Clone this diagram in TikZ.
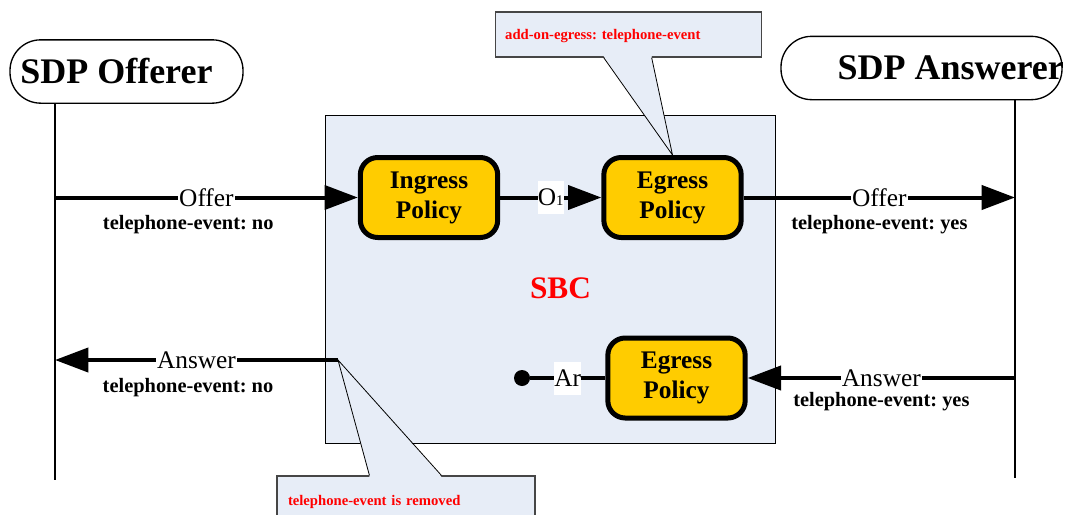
\documentclass[tikz,border=0pt]{standalone}
\usepackage{fontspec}
\setmainfont{Liberation Serif}
\usetikzlibrary{positioning,arrows.meta}
\frenchspacing

\definecolor{sbcfill}{RGB}{231,237,247}
\definecolor{policyfill}{RGB}{255,204,0}
\definecolor{noteline}{RGB}{70,70,70}

\begin{document}
\begin{tikzpicture}[
  x=0.75pt, y=-0.75pt,
  font=\fontsize{19}{22.5}\selectfont,
  party/.style={rectangle, rounded corners=23pt, draw=black, line width=1pt,
                minimum height=47.5pt, inner sep=0pt},
  partyname/.style={anchor=west, inner sep=0pt, font=\fontsize{27}{30}\selectfont\bfseries},
  lifeline/.style={draw=black, line width=1pt},
  sbc/.style={rectangle, draw=black, line width=0.7pt, fill=sbcfill,
              minimum width=337.5pt, minimum height=246pt},
  policy/.style={rectangle, rounded corners=13pt, draw=black, line width=3.75pt,
                 fill=policyfill, minimum width=103pt, minimum height=60pt,
                 align=center, inner sep=2pt, font=\fontsize{19}{22.5}\selectfont\bfseries},
  arrow/.style={-{Triangle[length=25pt,width=18pt]}, line width=3pt, draw=black},
  msg/.style={fill=white, inner sep=1pt},
  clipped/.style={fill=white, inner sep=0pt, minimum height=24.75pt, minimum width=#1},
  sub/.style={font=\fontsize{15.3}{18}\selectfont\bfseries},
  note/.style={rectangle, draw=noteline, line width=0.8pt, fill=sbcfill,
               align=left, text=red, font=\fontsize{11}{13}\selectfont\bfseries},
  pointer/.style={draw=black, line width=0.6pt},
  dot/.style={circle, fill=black, inner sep=0pt, minimum size=12pt},
]
\useasboundingbox (0,0) rectangle (1066,514);

% ---- parties and lifelines ----
\node[party, minimum width=174.75pt] (offerer) at (126.5,71.5) {};
\node[partyname] (offerername) at ([xshift=8pt]offerer.west) {SDP Offerer};
\node[party, minimum width=210.75pt] (answerer) at (921.5,68) {};
\node[partyname] (answerername) at ([xshift=42.75pt]answerer.west) {SDP Answerer};

\coordinate (offend) at (55,480);
\coordinate (ansend) at (1015,478);
\draw[lifeline] (offerer.south -| offend) -- (offend);
\draw[lifeline] (answerer.south -| ansend) -- (ansend);

% ---- SBC box and policies ----
\node[sbc] (sbc) at (550,279) {};
\node[text=red, font=\fontsize{23.5}{26}\selectfont\bfseries] (sbcname) at (560.5,288) {SBC};
\node[policy] (ingress)   at (429,197.5)   {Ingress\\Policy};
\node[policy] (egressoff) at (672.5,197.5) {Egress\\Policy};
\node[policy] (egressans) at (676.5,378)   {Egress\\Policy};
\node[dot] (ansdot) at (522,378) {};

% ---- callouts ----
\node[note, text width=185pt, inner xsep=7.5pt, minimum height=33.75pt, text depth=0pt] (egressnote)
     at (628.5,34.5) {add-on-egress: telephone-event};
\path (egressnote.south west) ++(109,0) coordinate (en1) ++(48,0) coordinate (en2);
\fill[sbcfill] ([yshift=1pt]en1) -- (egressoff.north) -- ([yshift=1pt]en2) -- cycle;
\draw[pointer] (en1) -- (egressoff.north) -- (en2);

\coordinate (answerout) at (338,360);
\node[note, text width=177pt, inner xsep=8.25pt, minimum height=36pt, text depth=0pt] (removednote)
     at (406,500) {telephone-event is removed};
\path (removednote.north west) ++(93,0) coordinate (rn1) ++(72,0) coordinate (rn2);
\fill[sbcfill] ([yshift=-1pt]rn1) -- (answerout) -- ([yshift=-1pt]rn2) -- cycle;
\draw[pointer] (rn1) -- (answerout) -- (rn2);

% ---- offer path ----
\draw[arrow] (offend |- ingress.west) -- node[msg] (offerin) {Offer}
      node[sub, pos=0.44, yshift=-20pt] (offerinsub) {telephone-event: no} (ingress.west);
\draw[arrow] (ingress.east) -- node[clipped=19.5pt] (offermid) {O{\fontsize{11}{12}\selectfont 1}}
      (egressoff.west);
\draw[arrow] (egressoff.east) -- node[msg] (offerout) {Offer}
      node[sub, yshift=-20pt] (offeroutsub) {telephone-event: yes} (ansend |- egressoff.east);

% ---- answer path ----
\draw[arrow] (ansend |- egressans.east) -- node[msg] (answerin) {Answer}
      node[sub, yshift=-18pt] (answerinsub) {telephone-event: yes} (egressans.east);
\draw[line width=3pt] (ansdot) -- node[clipped=18pt] (answermid) {Ar} (egressans.west);
\draw[arrow] (answerout) -- node[msg] (answerback) {Answer}
      node[sub, pos=0.53, yshift=-21pt] (answerbacksub) {telephone-event: no} (offend |- answerout);

\end{tikzpicture}
\end{document}
